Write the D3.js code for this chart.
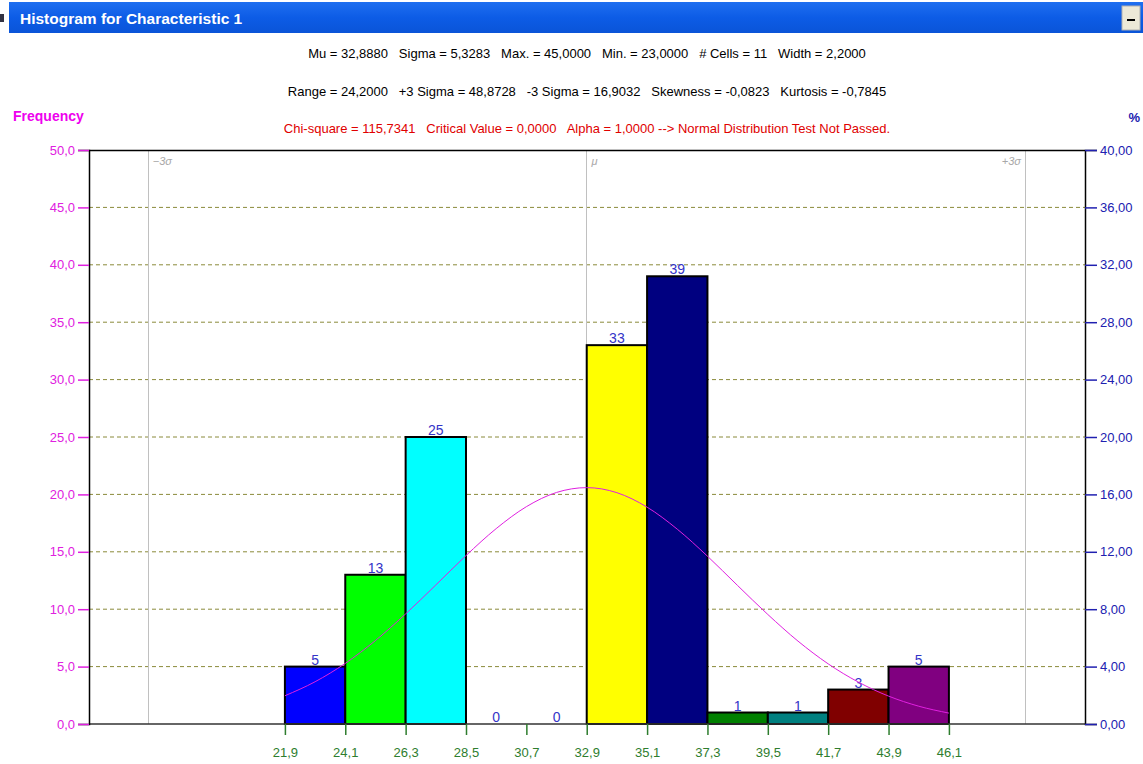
<!DOCTYPE html>
<html>
<head>
<meta charset="utf-8">
<script src="https://cdn.jsdelivr.net/npm/d3@7"></script>
<style>
  body { margin: 0; background: #fff; }
  text { font-family: "Liberation Sans", Arial, sans-serif; }
  .pre { white-space: pre; }
</style>
</head>
<body>
<div class="canvas"></div>
<script>
// histogram data
const edges = [21.9, 24.1, 26.3, 28.5, 30.7, 32.9, 35.1, 37.3, 39.5, 41.7, 43.9, 46.1];
const counts = [5, 13, 25, 0, 0, 33, 39, 1, 1, 3, 5];
const barColors = ['#0000ff', '#00ff00', '#00ffff', '#ff0000', '#ff00ff', '#ffff00', '#000080', '#008000', '#008080', '#800000', '#800080'];

// fitted normal curve
const curveX = [21.9, 23.0, 24.1, 25.2, 26.3, 27.4, 28.5, 29.6, 30.7, 31.8, 32.9, 34.0, 35.1, 36.2, 37.3, 38.4, 39.5, 40.6, 41.7, 42.8, 43.9, 45.0, 46.1];
const curveY = [2.46, 3.68, 5.28, 7.27, 9.59, 12.11, 14.67, 17.02, 18.93, 20.17, 20.59, 20.15, 18.89, 16.97, 14.62, 12.06, 9.54, 7.22, 5.24, 3.65, 2.43, 1.55, 0.95];

// sigma markers
const sigmaLines = [16.9032, 32.888, 48.8728];
const sigmaLabels = ['\u22123\u03c3', '\u03bc', '+3\u03c3'];

const freqTicks = [0, 5, 10, 15, 20, 25, 30, 35, 40, 45, 50];
const pctTicks = [0, 4, 8, 12, 16, 20, 24, 28, 32, 36, 40];

const headerLines = [
  'Mu = 32,8880   Sigma = 5,3283   Max. = 45,0000   Min. = 23,0000   # Cells = 11   Width = 2,2000',
  'Range = 24,2000   +3 Sigma = 48,8728   -3 Sigma = 16,9032   Skewness = -0,0823   Kurtosis = -0,7845',
  'Chi-square = 115,7341   Critical Value = 0,0000   Alpha = 1,0000 --> Normal Distribution Test Not Passed.'
];

const dims = { width: 1143, height: 764 };
const plot = { left: 89, right: 1085, top: 150, bottom: 724 };
const fontFam = '"Liberation Sans", Arial, sans-serif';

const loc = d3.formatLocale({ decimal: ',', thousands: '.', grouping: [3], currency: ['', ''] });
const f1 = loc.format('.1f');
const f2 = loc.format('.2f');

const svg = d3.select('.canvas')
  .append('svg')
  .attr('width', dims.width)
  .attr('height', dims.height);

// title bar
const grad = svg.append('defs').append('linearGradient')
  .attr('id', 'tb').attr('x1', 0).attr('x2', 0).attr('y1', 0).attr('y2', 1);
grad.append('stop').attr('offset', '0%').attr('stop-color', '#1f6ff0');
grad.append('stop').attr('offset', '50%').attr('stop-color', '#0d5ce6');
grad.append('stop').attr('offset', '100%').attr('stop-color', '#0a54d8');

svg.append('rect').attr('x', 9).attr('y', 2).attr('width', 1134).attr('height', 31).attr('fill', 'url(#tb)');
svg.append('rect').attr('x', 0).attr('y', 14).attr('width', 4).attr('height', 8).attr('fill', '#334');
svg.append('text')
  .attr('x', 20).attr('y', 24)
  .attr('fill', '#fff')
  .attr('font-weight', 'bold')
  .attr('font-size', 15.5)
  .text('Histogram for Characteristic 1');
svg.append('rect').attr('x', 1122).attr('y', 6).attr('width', 18).attr('height', 24)
  .attr('fill', '#ece9d8').attr('stroke', '#b0b0b0');
svg.append('rect').attr('x', 1127).attr('y', 19).attr('width', 8).attr('height', 2).attr('fill', '#000');

// header stats
const cx = (plot.left + plot.right) / 2;
svg.selectAll('.hdr')
  .data(headerLines)
  .enter().append('text')
  .attr('class', 'hdr pre')
  .attr('x', cx)
  .attr('y', (d, i) => 58 + i * 37.5)
  .attr('text-anchor', 'middle')
  .attr('font-size', 13)
  .attr('fill', (d, i) => i === 2 ? '#e00000' : '#000')
  .text(d => d);

svg.append('text').attr('x', 13).attr('y', 121)
  .attr('fill', '#ee00ee').attr('font-weight', 'bold').attr('font-size', 14)
  .text('Frequency');
svg.append('text').attr('x', 1140).attr('y', 122)
  .attr('text-anchor', 'end')
  .attr('fill', '#2020b0').attr('font-weight', 'bold').attr('font-size', 13)
  .text('%');

// scales
const x = d3.scaleLinear().domain([14.76, 51.06]).range([plot.left, plot.right]);
const y = d3.scaleLinear().domain([0, 50]).range([plot.bottom, plot.top]);
const yPct = d3.scaleLinear().domain([0, 40]).range([plot.bottom, plot.top]);

// gridlines
svg.append('g').selectAll('line')
  .data(freqTicks.filter(t => t > 0 && t < 50))
  .enter().append('line')
  .attr('x1', plot.left).attr('x2', plot.right)
  .attr('y1', d => y(d)).attr('y2', d => y(d))
  .attr('stroke', '#8a8a3a')
  .attr('stroke-dasharray', '4,3');

// sigma lines
svg.append('g').selectAll('line')
  .data(sigmaLines)
  .enter().append('line')
  .attr('x1', d => Math.round(x(d)) + 0.5).attr('x2', d => Math.round(x(d)) + 0.5)
  .attr('y1', plot.top).attr('y2', plot.bottom)
  .attr('stroke', '#c0c0c0');

svg.append('g').selectAll('text')
  .data(sigmaLines)
  .enter().append('text')
  .attr('x', (d, i) => i === 2 ? x(d) - 4 : x(d) + 5)
  .attr('y', plot.top + 15)
  .attr('text-anchor', (d, i) => i === 2 ? 'end' : 'start')
  .attr('font-size', 11)
  .attr('font-style', 'italic')
  .attr('fill', '#a8a8a8')
  .text((d, i) => sigmaLabels[i]);

// bars
const bins = counts.map((c, i) => ({ x0: edges[i], x1: edges[i + 1], count: c, color: barColors[i] }));

svg.append('g').selectAll('rect')
  .data(bins)
  .enter().append('rect')
  .attr('x', d => x(d.x0))
  .attr('y', d => y(d.count))
  .attr('width', d => x(d.x1) - x(d.x0))
  .attr('height', d => y(0) - y(d.count))
  .attr('fill', d => d.color)
  .attr('stroke', '#000')
  .attr('stroke-width', 2);

svg.append('g').selectAll('text')
  .data(bins)
  .enter().append('text')
  .attr('x', d => x((d.x0 + d.x1) / 2))
  .attr('y', d => y(d.count) - 2)
  .attr('text-anchor', 'middle')
  .attr('font-size', 14)
  .attr('fill', '#3434c8')
  .text(d => d.count);

// normal curve
const line = d3.line()
  .x((d, i) => x(curveX[i]))
  .y(d => y(d))
  .curve(d3.curveMonotoneX);

svg.append('path')
  .attr('d', line(curveY))
  .attr('fill', 'none')
  .attr('stroke', '#e020e0')
  .attr('stroke-width', 1);

// frame
svg.append('line').attr('x1', plot.left).attr('x2', plot.right).attr('y1', plot.top + 0.5).attr('y2', plot.top + 0.5)
  .attr('stroke', '#000').attr('stroke-width', 1.5);
svg.append('line').attr('x1', plot.left).attr('x2', plot.right).attr('y1', plot.bottom).attr('y2', plot.bottom)
  .attr('stroke', '#333').attr('stroke-width', 1.5);

// left axis
const leftAxis = d3.axisLeft(y).tickValues(freqTicks).tickFormat(f1).tickSize(11).tickPadding(3);
const gl = svg.append('g').attr('transform', `translate(${plot.left},0)`).call(leftAxis);
gl.select('.domain').attr('stroke', '#000').attr('stroke-width', 1.5);
gl.selectAll('.tick line').attr('stroke', '#e020e0').attr('stroke-width', 1.5);
gl.selectAll('.tick text').attr('fill', '#e020e0').attr('font-size', 13).attr('font-family', fontFam);

// right axis
const rightAxis = d3.axisRight(yPct).tickValues(pctTicks).tickFormat(f2).tickSize(12).tickPadding(3);
const gr = svg.append('g').attr('transform', `translate(${plot.right},0)`).call(rightAxis);
gr.select('.domain').attr('stroke', '#000').attr('stroke-width', 1.5);
gr.selectAll('.tick line').attr('stroke', '#2020b0').attr('stroke-width', 1.5);
gr.selectAll('.tick text').attr('fill', '#2020b0').attr('font-size', 13).attr('font-family', fontFam);

// bottom axis
const bottomAxis = d3.axisBottom(x).tickValues(edges).tickFormat(f1).tickSize(11).tickPadding(13);
const gb = svg.append('g').attr('transform', `translate(0,${plot.bottom})`).call(bottomAxis);
gb.select('.domain').remove();
gb.selectAll('.tick line').attr('stroke', '#2e7d2e').attr('stroke-width', 1.5);
gb.selectAll('.tick text').attr('fill', '#2e7d2e').attr('font-size', 13).attr('font-family', fontFam);
</script>
</body>
</html>
